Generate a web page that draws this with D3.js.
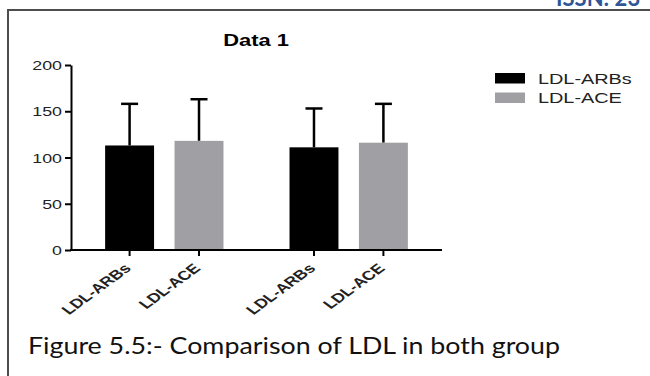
<!DOCTYPE html>
<html>
<head>
<meta charset="utf-8">
<script src="https://cdn.jsdelivr.net/npm/d3@7"></script>
<style>
  body { margin: 0; background: #fff; }
  svg { display: block; }
</style>
</head>
<body>
<script>
"use strict";

// groups and series
var groups = ["Group 1", "Group 2"];
var series = ["LDL-ARBs", "LDL-ACE"];
var means = [[113, 118], [111, 116]];   // [group][series]
var sds   = [[45, 45], [42, 42]];
var yTicks = [0, 50, 100, 150, 200];
var colors = ["#000000", "#a09fa4"];

var W = 650, H = 376;
var sx = 1.37; // the original figure is stretched sideways

var svg = d3.select("body").append("svg")
    .attr("width", W)
    .attr("height", H);

// page furniture: header text cut off by the page top, and the frame
svg.append("text")
    .attr("x", 556)
    .attr("y", 6)
    .attr("fill", "#2f5597")
    .style("font-family", "Lato, 'Open Sans', sans-serif")
    .style("font-weight", "bold")
    .style("font-size", "22px")
    .text("ISSN: 23");

svg.append("path")
    .attr("d", "M8,376 V10 H650")
    .attr("fill", "none")
    .attr("stroke", "#4d4d4d")
    .attr("stroke-width", 2);

// scales
var plot = {left: 71, right: 442, top: 65, bottom: 250};

var yScale = d3.scaleLinear()
    .domain([0, 200])
    .range([plot.bottom, plot.top]);

var x0 = d3.scaleBand()
    .domain(groups)
    .range([plot.left, plot.right])
    .paddingInner(0.2)
    .paddingOuter(0.106);

var x1 = d3.scaleBand()
    .domain(series)
    .range([0, x0.bandwidth()])
    .paddingInner(0.295)
    .paddingOuter(0.21);

var font = "'Liberation Sans', Arial, sans-serif";

// title
svg.append("g")
    .attr("transform", "translate(256,46) scale(" + sx + ",1)")
  .append("text")
    .attr("text-anchor", "middle")
    .style("font-family", font)
    .style("font-weight", "bold")
    .style("font-size", "16px")
    .text("Data 1");

// flat list of bars
var bars = [];
groups.forEach(function(g, gi) {
  series.forEach(function(s, si) {
    bars.push({group: g, series: s, si: si, mean: means[gi][si], sd: sds[gi][si]});
  });
});
function cx(d) { return x0(d.group) + x1(d.series) + x1.bandwidth() / 2; }

// error bars (upper only)
var capW = 17;
var err = svg.append("g")
    .attr("stroke", "#000")
    .attr("stroke-width", 2.5);
err.selectAll("line.stem")
    .data(bars)
  .enter().append("line")
    .attr("class", "stem")
    .attr("x1", cx).attr("x2", cx)
    .attr("y1", function(d) { return yScale(d.mean); })
    .attr("y2", function(d) { return yScale(d.mean + d.sd); });
err.selectAll("line.cap")
    .data(bars)
  .enter().append("line")
    .attr("class", "cap")
    .attr("x1", function(d) { return cx(d) - capW / 2; })
    .attr("x2", function(d) { return cx(d) + capW / 2; })
    .attr("y1", function(d) { return yScale(d.mean + d.sd); })
    .attr("y2", function(d) { return yScale(d.mean + d.sd); });

// bars
svg.append("g").selectAll("rect")
    .data(bars)
  .enter().append("rect")
    .attr("x", function(d) { return x0(d.group) + x1(d.series); })
    .attr("width", x1.bandwidth())
    .attr("y", function(d) { return yScale(d.mean); })
    .attr("height", function(d) { return yScale(0) - yScale(d.mean); })
    .attr("fill", function(d) { return colors[d.si]; });

// y axis
var yAxis = d3.axisLeft(yScale)
    .tickValues(yTicks)
    .tickSize(6)
    .tickSizeOuter(0)
    .tickPadding(0);
var gY = svg.append("g")
    .attr("transform", "translate(" + plot.left + ",0)")
    .call(yAxis);
gY.select(".domain").attr("stroke", "#000").attr("stroke-width", 2);
gY.selectAll(".tick line").attr("stroke", "#000").attr("stroke-width", 2);
gY.selectAll(".tick text")
    .attr("x", -6.6)
    .attr("dy", "0.36em")
    .attr("transform", "scale(" + sx + ",1)")
    .attr("fill", "#222")
    .style("font-family", font)
    .style("font-size", "13px");

// x axis
var gX = svg.append("g");
gX.append("line")
    .attr("x1", plot.left - 1).attr("x2", plot.right)
    .attr("y1", plot.bottom).attr("y2", plot.bottom)
    .attr("stroke", "#000")
    .attr("stroke-width", 2);
gX.selectAll("line.tick")
    .data(bars)
  .enter().append("line")
    .attr("class", "tick")
    .attr("x1", cx).attr("x2", cx)
    .attr("y1", plot.bottom).attr("y2", plot.bottom + 6)
    .attr("stroke", "#000")
    .attr("stroke-width", 2);
gX.selectAll("g.lab")
    .data(bars)
  .enter().append("g")
    .attr("class", "lab")
    .attr("transform", function(d) {
      return "translate(" + (cx(d) - 2) + "," + (plot.bottom + 16) + ") scale(" + sx + ",1) rotate(-45)";
    })
  .append("text")
    .attr("text-anchor", "end")
    .attr("dy", "0.35em")
    .attr("fill", "#222")
    .style("font-family", font)
    .style("font-weight", "bold")
    .style("font-size", "13px")
    .text(function(d) { return d.series; });

// legend
var legend = svg.append("g").selectAll("g")
    .data(series)
  .enter().append("g")
    .attr("transform", function(d, i) { return "translate(495," + (73 + i * 19.5) + ")"; });
legend.append("rect")
    .attr("width", 30)
    .attr("height", 10.5)
    .attr("fill", function(d, i) { return colors[i]; });
legend.append("g")
    .attr("transform", "translate(43,10.5) scale(" + sx + ",1)")
  .append("text")
    .attr("fill", "#222")
    .style("font-family", font)
    .style("font-size", "14.5px")
    .text(function(d) { return d; });

// caption
svg.append("text")
    .attr("x", 28)
    .attr("y", 354)
    .attr("textLength", 532)
    .attr("lengthAdjust", "spacingAndGlyphs")
    .attr("fill", "#111")
    .style("font-family", "Lato, 'Open Sans', sans-serif")
    .style("font-size", "24px")
    .text("Figure 5.5:- Comparison of LDL in both group");
</script>
</body>
</html>
